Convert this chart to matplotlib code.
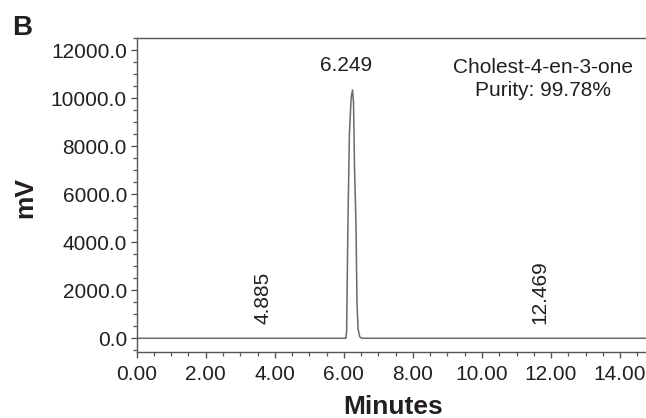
import matplotlib
matplotlib.use('Agg')
import matplotlib.pyplot as plt
from matplotlib.ticker import MultipleLocator, FormatStrFormatter

plt.rcParams['font.family'] = ['Liberation Sans', 'DejaVu Sans']

# chromatogram trace (minutes, mV)
times = [0.0, 3.20, 6.06, 6.08, 6.09, 6.12, 6.16, 6.21, 6.25, 6.28, 6.31,
         6.35, 6.38, 6.41, 6.46, 6.52, 14.75]
signal = [0, 0, 0, 300, 1500, 5000, 8500, 10000, 10350, 9800, 7000,
          4800, 1500, 400, 60, 0, 0]

# peak labels: retention time, label position (min, mV), rotation
peak_labels = ['4.885', '6.249', '12.469']
label_x = [3.67, 6.06, 11.69]
label_y = [600, 11350, 600]
label_rot = [90, 0, 90]

compound = 'Cholest-4-en-3-one'
purity = 'Purity: 99.78%'

text_col = '#231f20'
axis_col = '#555555'

fig = plt.figure(figsize=(6.46, 4.18), dpi=100)
ax = fig.add_axes([0.2116, 0.1586, 1 - 0.2116, 0.9098 - 0.1586])

ax.plot(times, signal, color='#6a6a6a', lw=1.1)

ax.set_xlim(0, 14.75)
ax.set_ylim(-560, 12525)

ax.xaxis.set_major_locator(MultipleLocator(2))
ax.xaxis.set_minor_locator(MultipleLocator(0.5))
ax.yaxis.set_major_locator(MultipleLocator(2000))
ax.yaxis.set_minor_locator(MultipleLocator(500))
ax.xaxis.set_major_formatter(FormatStrFormatter('%.2f'))
ax.yaxis.set_major_formatter(FormatStrFormatter('%.1f'))

for side in ['left', 'bottom', 'top']:
    ax.spines[side].set_color(axis_col)
    ax.spines[side].set_linewidth(1.0)
ax.spines['right'].set_visible(False)

ax.tick_params(which='major', length=4.5, width=1.0, color=axis_col,
               labelsize=15, labelcolor=text_col)
ax.tick_params(which='minor', length=2.8, width=0.9, color=axis_col)
ax.tick_params(axis='x', which='major', pad=5)
ax.tick_params(axis='y', which='major', pad=2.5)

for lab, x, y, r in zip(peak_labels, label_x, label_y, label_rot):
    if r == 90:
        ax.text(x, y, lab, rotation=90, ha='center', va='bottom',
                fontsize=15, color=text_col)
    else:
        ax.text(x, y, lab, ha='center', va='center', fontsize=15, color=text_col)

ax.text(11.78, 10810, compound + '\n' + purity, ha='center', va='center',
        fontsize=15, color=text_col, linespacing=1.25)

fig.text(393 / 646, 1 - 407 / 418, 'Minutes', ha='center', va='center',
         fontsize=19, fontweight='bold', color=text_col)
fig.text(25 / 646, 1 - 197 / 418, 'mV', ha='center', va='center', rotation=90,
         fontsize=19, fontweight='bold', color=text_col)
fig.text(12 / 646, 1 - 35 / 418, 'B', ha='left', va='baseline',
         fontsize=20, fontweight='bold', color=text_col)

fig.savefig('out.png', dpi=100)
